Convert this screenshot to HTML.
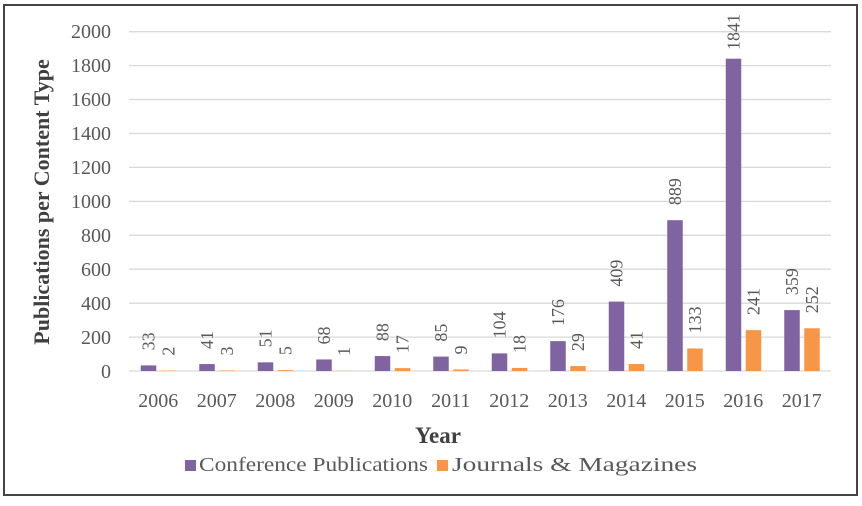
<!DOCTYPE html>
<html><head><meta charset="utf-8"><style>
html,body{margin:0;padding:0;background:#fff;}
svg, svg text{font-family:"Liberation Serif","Times New Roman",serif !important;}
</style></head><body>
<svg width="862" height="501" viewBox="0 0 862 501" xmlns="http://www.w3.org/2000/svg" font-family="Liberation Serif, serif">
<rect x="0" y="0" width="862" height="501" fill="#fff"/>
<rect x="4" y="5" width="853" height="490" fill="none" stroke="#444" stroke-width="2"/>
<g stroke="#d9d9d9" stroke-width="1.3">
<line x1="129" x2="831" y1="31.7" y2="31.7"/><line x1="129" x2="831" y1="65.6" y2="65.6"/>
<line x1="129" x2="831" y1="99.5" y2="99.5"/><line x1="129" x2="831" y1="133.5" y2="133.5"/>
<line x1="129" x2="831" y1="167.4" y2="167.4"/><line x1="129" x2="831" y1="201.4" y2="201.4"/>
<line x1="129" x2="831" y1="235.3" y2="235.3"/><line x1="129" x2="831" y1="269.2" y2="269.2"/>
<line x1="129" x2="831" y1="303.2" y2="303.2"/><line x1="129" x2="831" y1="337.1" y2="337.1"/>
<line x1="129" x2="831" y1="371" y2="371"/>
</g>
<g font-size="20" fill="#595959" text-anchor="end">
<text x="111" y="38">2000</text><text x="111" y="72">1800</text><text x="111" y="106">1600</text>
<text x="111" y="140">1400</text><text x="111" y="174">1200</text><text x="111" y="208">1000</text>
<text x="111" y="242">800</text><text x="111" y="276">600</text><text x="111" y="310">400</text>
<text x="111" y="344">200</text><text x="111" y="378">0</text>
</g>
<text transform="translate(49,202) rotate(-90)" text-anchor="middle" font-size="22" font-weight="bold" fill="#404040">Publications per Content Type</text>
<g id="bars"></g>
<g font-size="20" fill="#595959" text-anchor="middle" id="xl"></g>
<text x="438" y="443" text-anchor="middle" font-size="23" font-weight="bold" fill="#404040">Year</text>
<rect x="185" y="460" width="11" height="11" fill="#8064a2"/>
<text x="199" y="471" font-size="20" fill="#595959" textLength="229" lengthAdjust="spacingAndGlyphs">Conference Publications</text>
<rect x="437" y="460" width="11" height="11" fill="#f79646"/>
<text x="452" y="471" font-size="20" fill="#595959" textLength="245" lengthAdjust="spacingAndGlyphs">Journals &amp; Magazines</text>
<script>
var c=[33,41,51,68,88,85,104,176,409,889,1841,359],j=[2,3,5,1,17,9,18,29,41,133,241,252];
var s=339.3/2000,y0=371,b=document.getElementById('bars'),xl=document.getElementById('xl'),ns='http://www.w3.org/2000/svg';
function el(t,a,p,txt){var e=document.createElementNS(ns,t);for(var k in a)e.setAttribute(k,a[k]);if(txt!=null)e.textContent=txt;p.appendChild(e);return e;}
for(var i=0;i<12;i++){var cx=129+58.5*(i+0.5);
var h=c[i]*s,h2=j[i]*s;
el('rect',{x:cx-17.5,y:y0-h,width:15.5,height:h,fill:'#8064a2'},b);
el('rect',{x:cx+2.5,y:y0-h2,width:15.5,height:h2,fill:'#f79646'},b);
var ly=(i==10)?50:y0-h-15;
el('text',{transform:'translate('+(cx-9.75+6)+','+ly+') rotate(-90)','font-size':18,fill:'#595959'},b,c[i]);
el('text',{transform:'translate('+(cx+10.25+6)+','+(y0-h2-15)+') rotate(-90)','font-size':18,fill:'#595959'},b,j[i]);
el('text',{x:cx,y:407},xl,2006+i);}
</script>
</svg>
</body></html>
